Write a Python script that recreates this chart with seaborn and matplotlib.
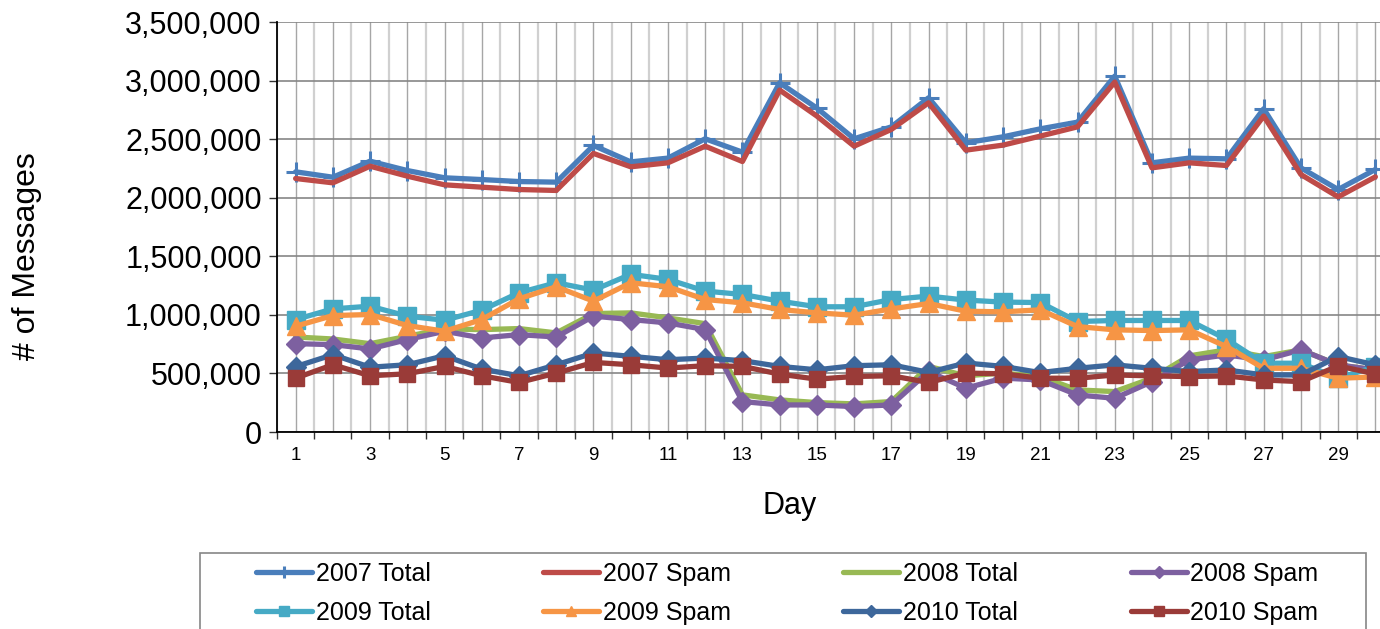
import numpy as np
import pandas as pd
import seaborn as sns
import matplotlib.pyplot as plt
from matplotlib.patches import Rectangle
from matplotlib.ticker import StrMethodFormatter, FixedLocator

# daily message counts
days = list(range(1, 31))
total_2007 = [2221, 2175, 2312, 2232, 2170, 2155, 2138, 2133, 2446, 2306, 2338, 2503, 2389, 2981, 2765,
              2503, 2605, 2853, 2469, 2520, 2588, 2645, 3038, 2298, 2338, 2332, 2759, 2255, 2070, 2241]
spam_2007 = [2164, 2127, 2269, 2184, 2110, 2090, 2070, 2062, 2378, 2264, 2298, 2440, 2309, 2919, 2697,
             2440, 2583, 2810, 2406, 2449, 2526, 2605, 2987, 2255, 2298, 2275, 2697, 2198, 2007, 2178]
total_2008 = [811, 794, 754, 817, 880, 874, 883, 846, 1011, 1017, 974, 925, 317, 274, 251,
              240, 260, 560, 480, 503, 473, 359, 345, 459, 650, 701, 644, 701, 573, 530]
spam_2008 = [754, 746, 709, 789, 860, 803, 831, 811, 989, 960, 931, 874, 260, 231, 231,
             217, 231, 517, 374, 460, 444, 316, 288, 430, 615, 658, 615, 701, 573, 530]
total_2009 = [960, 1051, 1074, 989, 954, 1040, 1189, 1274, 1211, 1346, 1303, 1203, 1174, 1117, 1069,
              1069, 1131, 1160, 1126, 1109, 1105, 943, 952, 952, 952, 792, 587, 587, 459, 558]
spam_2009 = [903, 994, 1003, 909, 860, 960, 1137, 1240, 1117, 1274, 1240, 1131, 1103, 1046, 1017,
             997, 1051, 1097, 1031, 1026, 1043, 900, 872, 866, 872, 729, 544, 544, 459, 470]
total_2010 = [558, 660, 553, 574, 651, 537, 480, 574, 674, 646, 617, 631, 609, 560, 531,
              566, 574, 509, 589, 560, 507, 544, 573, 544, 516, 530, 487, 487, 644, 573]
spam_2010 = [460, 574, 480, 497, 560, 480, 423, 503, 594, 574, 546, 566, 560, 494, 451,
             474, 480, 423, 503, 497, 459, 459, 487, 479, 473, 479, 444, 430, 564, 496]

series_names = ['2007 Total', '2007 Spam', '2008 Total', '2008 Spam',
                '2009 Total', '2009 Spam', '2010 Total', '2010 Spam']
series_values = [total_2007, spam_2007, total_2008, spam_2008,
                 total_2009, spam_2009, total_2010, spam_2010]

# style per series: colour, marker, marker size
styles = {
    '2007 Total': ('#4A7EBB', '+', 14),
    '2007 Spam': ('#BE4B48', None, 0),
    '2008 Total': ('#98B954', None, 0),
    '2008 Spam': ('#7D60A0', 'D', 10),
    '2009 Total': ('#46AAC5', 's', 12.5),
    '2009 Spam': ('#F69545', '^', 13),
    '2010 Total': ('#3D679B', 'D', 10),
    '2010 Spam': ('#9A3B38', 's', 12),
}

sns.set_style('white')
plt.rcParams['font.family'] = ['Liberation Sans', 'DejaVu Sans']
plt.rcParams['text.color'] = 'black'
plt.rcParams['axes.labelcolor'] = 'black'

fig = plt.figure(figsize=(13.8, 6.29), dpi=100)
ax = fig.add_axes([277 / 1380, 1 - 432 / 629, 1117 / 1380, 410 / 629])

for name, vals in zip(series_names, series_values):
    color, marker, ms = styles[name]
    y = np.array(vals) * 1000
    sns.lineplot(x=days, y=y, ax=ax, color=color, linewidth=3.8,
                 marker=marker, markersize=ms, markeredgecolor=color,
                 markeredgewidth=2.2 if marker == '+' else 1,
                 label=name, legend=False, solid_joinstyle='round')

ax.set_xlim(0.5, 30.5)
ax.set_ylim(0, 3500000)
ax.yaxis.set_major_locator(FixedLocator(np.arange(0, 3500001, 500000)))
ax.yaxis.set_major_formatter(StrMethodFormatter('{x:,.0f}'))

ax.set_xticks(days)
ax.set_xticklabels([str(d) if d % 2 == 1 else '' for d in days])
ax.set_xticks(np.arange(0.5, 31, 1), minor=True)

ax.grid(True, axis='y', color='#868686', linewidth=1.2)
ax.grid(True, axis='x', which='major', color='#a6a6a6', linewidth=1.0)
ax.grid(True, axis='x', which='minor', color='#d0d0d0', linewidth=1.6)
ax.set_axisbelow(True)

ax.tick_params(axis='y', which='major', length=6, width=1, color='#333333',
               labelsize=22, pad=5, left=True, labelcolor='black')
ax.tick_params(axis='x', which='major', length=0, labelsize=13.5, pad=11, labelcolor='black')
ax.tick_params(axis='x', which='minor', length=5, width=1, color='#333333', bottom=True)

for side in ['top', 'right']:
    ax.spines[side].set_visible(False)
for side in ['left', 'bottom']:
    ax.spines[side].set_color('black')
    ax.spines[side].set_linewidth(1.3)

ax.set_xlabel('Day', fontsize=22)
ax.set_ylabel('# of Messages', fontsize=23)
ax.xaxis.set_label_coords(0.459, -0.145)
ax.yaxis.set_label_coords(-0.21, 0.43)

# legend: row-major order like the original, frame drawn separately
handles, labels = ax.get_legend_handles_labels()
order = [0, 4, 1, 5, 2, 6, 3, 7]
leg = fig.legend([handles[i] for i in order], [labels[i] for i in order],
                 ncol=4, loc='upper left',
                 bbox_to_anchor=(256 / 1380, 1 - 562 / 629),
                 fontsize=18, frameon=False, markerscale=0.6,
                 handlelength=2.24, handletextpad=0.15, columnspacing=4.5,
                 labelspacing=0.6, borderpad=0, borderaxespad=0)
fig.patches.append(Rectangle((200 / 1380, -0.05), 1166 / 1380, 0.05 + 1 - 553 / 629,
                             transform=fig.transFigure, fill=False,
                             edgecolor='#868686', linewidth=1.2))

fig.savefig('out.png', dpi=100)
